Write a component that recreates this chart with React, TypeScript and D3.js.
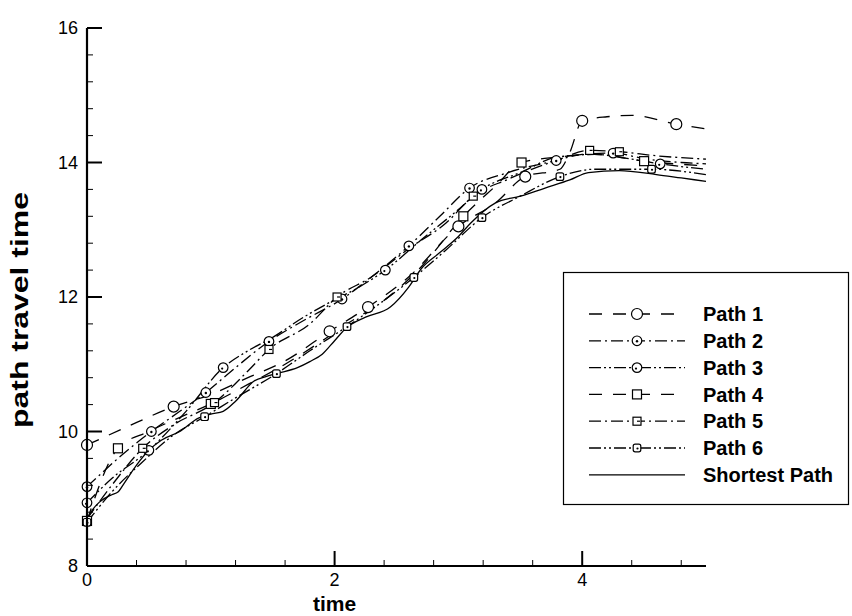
import React from "react";
import * as d3 from "d3";

// ---------- data ----------
const xMajorTicks = [0, 2, 4];
const yMajorTicks = [8, 10, 12, 14, 16];
const xMinorTicks = [0.4, 0.8, 1.2, 1.6, 2.4, 2.8, 3.2, 3.6, 4.4, 4.8];
const yMinorTicks = [8.4, 8.8, 9.2, 9.6, 10.4, 10.8, 11.2, 11.6, 12.4, 12.8, 13.2, 13.6, 14.4, 14.8, 15.2, 15.6];

const seriesNames = ["Path 1", "Path 2", "Path 3", "Path 4", "Path 5", "Path 6", "Shortest Path"];

const p1T = [0, 0.3, 0.7, 1.0, 1.3, 1.6, 1.96, 2.27, 2.6, 3.0, 3.3, 3.54, 3.82, 3.9, 4.0, 4.2, 4.4, 4.76, 5.0];
const p1V = [9.8, 10.05, 10.37, 10.55, 10.8, 11.05, 11.49, 11.85, 12.3, 13.05, 13.4, 13.79, 13.9, 14.15, 14.62, 14.68, 14.7, 14.57, 14.5];
const p1M = [0, 2, 6, 7, 9, 11, 14, 17];

const p2T = [0, 0.1, 0.25, 0.52, 0.75, 0.96, 1.2, 1.47, 1.75, 2.06, 2.3, 2.6, 2.85, 3.09, 3.4, 3.79, 4.0, 4.25, 4.52, 4.8, 5.0];
const p2V = [9.18, 9.35, 9.6, 10.0, 10.3, 10.58, 10.95, 11.34, 11.65, 11.97, 12.3, 12.76, 13.2, 13.62, 13.85, 14.03, 14.12, 14.14, 14.05, 14.0, 13.98];
const p2M = [0, 3, 5, 7, 9, 11, 13, 15, 17];

const p3T = [0, 0.2, 0.5, 0.8, 1.1, 1.3, 1.5, 1.75, 1.94, 2.2, 2.41, 2.7, 3.0, 3.19, 3.5, 3.8, 4.1, 4.4, 4.63, 5.0];
const p3V = [8.94, 9.3, 9.72, 10.3, 10.95, 11.2, 11.4, 11.7, 11.9, 12.15, 12.4, 12.85, 13.3, 13.6, 13.85, 14.08, 14.12, 14.05, 13.98, 13.9];
const p3M = [0, 2, 4, 10, 13, 18];

const p4T = [0, 0.25, 0.5, 0.8, 1.0, 1.3, 1.6, 1.9, 2.1, 2.4, 2.7, 3.04, 3.3, 3.51, 3.8, 4.1, 4.5, 5.0];
const p4V = [8.67, 9.75, 10.0, 10.25, 10.41, 10.7, 11.0, 11.35, 11.6, 11.95, 12.45, 13.2, 13.65, 14.0, 14.08, 14.12, 14.02, 13.95];
const p4M = [0, 1, 4, 11, 13, 16];

const p5T = [0, 0.2, 0.45, 0.7, 1.03, 1.3, 1.47, 1.8, 2.02, 2.3, 2.6, 2.9, 3.12, 3.4, 3.79, 4.06, 4.3, 4.6, 5.0];
const p5V = [8.7, 9.2, 9.75, 10.1, 10.43, 10.9, 11.22, 11.6, 12.0, 12.3, 12.72, 13.1, 13.5, 13.75, 14.03, 14.18, 14.16, 14.1, 14.05];
const p5M = [2, 4, 6, 8, 12, 15, 16];

const p6T = [0, 0.2, 0.45, 0.7, 0.95, 1.2, 1.53, 1.8, 2.1, 2.4, 2.64, 2.9, 3.19, 3.5, 3.82, 4.1, 4.56, 5.0];
const p6V = [8.65, 9.1, 9.55, 9.95, 10.22, 10.5, 10.86, 11.2, 11.56, 11.95, 12.29, 12.7, 13.18, 13.5, 13.79, 13.9, 13.9, 13.82];
const p6M = [0, 4, 6, 8, 10, 12, 14, 16];

const spT = [0, 0.05, 0.1, 0.2, 0.25, 0.3, 0.4, 0.5, 0.6, 0.75, 0.9, 1.0, 1.1, 1.2, 1.35, 1.45, 1.55, 1.7, 1.8, 1.9, 2.0, 2.1, 2.25, 2.45, 2.6, 2.7, 2.85, 3.0, 3.1, 3.3, 3.5, 3.7, 3.9, 4.05, 4.3, 4.6, 4.8, 5.0];
const spV = [8.7, 8.85, 8.95, 9.06, 9.1, 9.23, 9.5, 9.72, 9.87, 10.0, 10.2, 10.26, 10.3, 10.45, 10.75, 10.82, 10.87, 10.95, 11.04, 11.15, 11.35, 11.55, 11.7, 11.85, 12.15, 12.42, 12.66, 12.9, 13.1, 13.4, 13.5, 13.62, 13.74, 13.85, 13.88, 13.82, 13.77, 13.72];

// ---------- layout ----------
const W = 852, H = 616;
const L = 87, R = 706, T = 28, B = 566;

type Marker = "circle" | "dotCircle" | "dotCircle2" | "square" | "square2" | "square3" | "none";

const styles: { dash: string; marker: Marker }[] = [
  { dash: "13,11", marker: "circle" },
  { dash: "12,4,2,4", marker: "dotCircle" },
  { dash: "12,3,2,3,2,3", marker: "dotCircle2" },
  { dash: "13,11", marker: "square" },
  { dash: "12,4,2,4", marker: "square2" },
  { dash: "12,3,2,3,2,3", marker: "square3" },
  { dash: "none", marker: "none" },
];

const seriesT = [p1T, p2T, p3T, p4T, p5T, p6T, spT];
const seriesV = [p1V, p2V, p3V, p4V, p5V, p6V, spV];
const seriesM = [p1M, p2M, p3M, p4M, p5M, p6M, []];

function MarkerShape({ kind, x, y }: { kind: Marker; x: number; y: number }) {
  const s = { stroke: "#000", strokeWidth: 1.2, fill: "#fff" };
  switch (kind) {
    case "circle":
      return <circle cx={x} cy={y} r={5.5} {...s} />;
    case "dotCircle":
      return (
        <g>
          <circle cx={x} cy={y} r={4.8} {...s} />
          <circle cx={x} cy={y + 0.5} r={1.2} fill="#000" />
        </g>
      );
    case "dotCircle2":
      return (
        <g>
          <circle cx={x} cy={y} r={4.8} {...s} />
          <circle cx={x - 1} cy={y + 1} r={1.1} fill="#000" />
        </g>
      );
    case "square":
      return <rect x={x - 4.5} y={y - 4.5} width={9} height={9} {...s} />;
    case "square2":
      return (
        <g>
          <rect x={x - 4} y={y - 4} width={8} height={8} {...s} />
          <line x1={x} y1={y} x2={x + 3} y2={y} stroke="#000" strokeWidth={1.2} />
        </g>
      );
    case "square3":
      return (
        <g>
          <rect x={x - 3.8} y={y - 3.8} width={7.6} height={7.6} rx={2} {...s} />
          <circle cx={x + 0.5} cy={y + 0.5} r={1.1} fill="#000" />
        </g>
      );
    default:
      return null;
  }
}

export default function App() {
  const x = d3.scaleLinear().domain([0, 5]).range([L, R]);
  const y = d3.scaleLinear().domain([8, 16]).range([B, T]);
  const line = d3
    .line<[number, number]>()
    .x((d) => x(d[0]))
    .y((d) => y(d[1]))
    .curve(d3.curveMonotoneX);

  const font = "Arial, 'Liberation Sans', Helvetica, sans-serif";
  const legendY0 = 314;
  const legendDy = 26.8;

  return (
    <svg
      width={W}
      height={H}
      viewBox={`0 0 ${W} ${H}`}
      style={{ position: "absolute", left: 0, top: 0, background: "#fff" }}
      fontFamily={font}
    >
      <rect width={W} height={H} fill="#fff" />
      {/* series lines */}
      {seriesT.map((ts, i) => {
        const pts = ts.map((t, j) => [t, seriesV[i][j]] as [number, number]);
        return (
          <path
            key={"l" + i}
            d={line(pts) || ""}
            fill="none"
            stroke="#000"
            strokeWidth={1.3}
            strokeDasharray={styles[i].dash}
          />
        );
      })}
      {/* markers */}
      {seriesM.map((ms, i) =>
        ms.map((j) => (
          <MarkerShape key={`m${i}-${j}`} kind={styles[i].marker} x={x(seriesT[i][j])} y={y(seriesV[i][j])} />
        ))
      )}

      {/* axes */}
      <line x1={L} y1={T} x2={L} y2={B} stroke="#000" strokeWidth={2.2} />
      <line x1={L} y1={B} x2={R} y2={B} stroke="#000" strokeWidth={2.2} />
      {yMajorTicks.map((v) => (
        <g key={"ym" + v}>
          <line x1={L} x2={L + 15} y1={y(v)} y2={y(v)} stroke="#000" strokeWidth={2} />
          <text x={L - 9} y={y(v)} dy="0.36em" textAnchor="end" fontSize={18}>
            {v}
          </text>
        </g>
      ))}
      {yMinorTicks.map((v) => (
        <line key={"yn" + v} x1={L} x2={L + 6} y1={y(v)} y2={y(v)} stroke="#000" strokeWidth={1} />
      ))}
      {xMajorTicks.map((t) => (
        <g key={"xm" + t}>
          <line x1={x(t)} x2={x(t)} y1={B} y2={B - 15} stroke="#000" strokeWidth={2} />
          <text x={x(t)} y={B + 20} textAnchor="middle" fontSize={18}>
            {t}
          </text>
        </g>
      ))}
      {xMinorTicks.map((t) => (
        <line key={"xn" + t} x1={x(t)} x2={x(t)} y1={B} y2={B - 6} stroke="#000" strokeWidth={1} />
      ))}

      {/* axis titles */}
      <text x={x(2)} y={611} textAnchor="middle" fontSize={21} fontWeight="bold">
        time
      </text>
      <text
        transform={`translate(28, 310) rotate(-90)`}
        textAnchor="middle"
        fontSize={23}
        fontWeight="bold"
        textLength={236}
        lengthAdjust="spacingAndGlyphs"
      >
        path travel time
      </text>

      {/* legend */}
      <rect x={563.5} y={272.5} width={285} height={232} fill="#fff" stroke="#000" strokeWidth={1.2} />
      {seriesNames.map((name, i) => {
        const ly = legendY0 + i * legendDy;
        return (
          <g key={"lg" + i}>
            <line
              x1={589}
              x2={685}
              y1={ly}
              y2={ly}
              stroke="#000"
              strokeWidth={1.3}
              strokeDasharray={styles[i].dash}
            />
            <MarkerShape kind={styles[i].marker} x={637} y={ly} />
            <text x={703} y={ly} dy="0.36em" fontSize={20} fontWeight="bold">
              {name}
            </text>
          </g>
        );
      })}
    </svg>
  );
}
